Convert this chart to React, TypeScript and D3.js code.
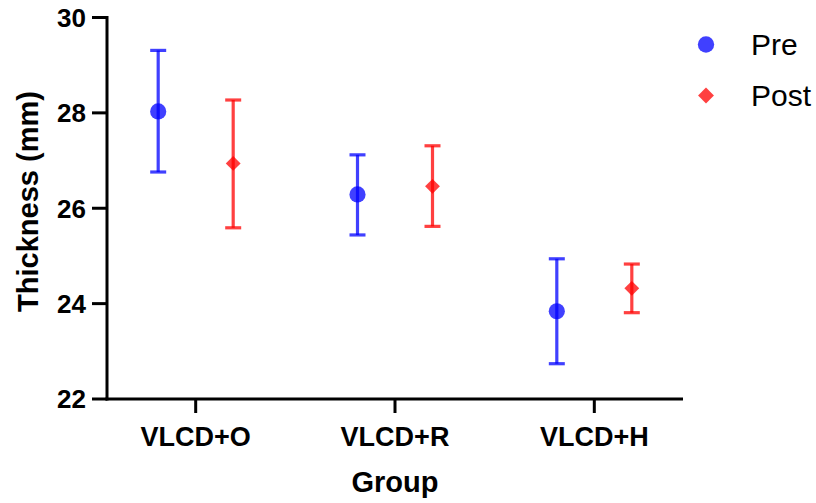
import React from "react";
import * as d3 from "d3";

// Mean ± error range per group, for the pre and post measurements
const groups = ["VLCD+O", "VLCD+R", "VLCD+H"];
const preMean = [28.03, 26.29, 23.84];
const preLow = [26.76, 25.44, 22.74];
const preHigh = [29.31, 27.12, 24.94];
const postMean = [26.94, 26.46, 24.32];
const postLow = [25.59, 25.62, 23.81];
const postHigh = [28.27, 27.31, 24.83];
const yTicks = [22, 24, 26, 28, 30];
const seriesNames = ["Pre", "Post"];

const W = 816;
const H = 503;
const margin = { left: 107, right: 133, top: 17.5, bottom: 104 };
const FONT = "'Liberation Sans', Arial, sans-serif";

export default function App() {
  const x = d3
    .scalePoint<string>()
    .domain(groups)
    .range([margin.left, W - margin.right])
    .padding(0.445);
  const y = d3
    .scaleLinear()
    .domain([22, 30])
    .range([H - margin.bottom, margin.top]);

  const offset = 37.5;
  const series = [
    { name: seriesNames[0], mean: preMean, low: preLow, high: preHigh, color: "#0000FF", dx: -offset, shape: "circle" },
    { name: seriesNames[1], mean: postMean, low: postLow, high: postHigh, color: "#FF0000", dx: offset, shape: "diamond" },
  ];

  const diamond = d3.symbol().type(d3.symbolDiamond2).size(140)();
  const circle = d3.symbol().type(d3.symbolCircle).size(205)();
  const legendDiamond = d3.symbol().type(d3.symbolDiamond2).size(160)();
  const legendCircle = d3.symbol().type(d3.symbolCircle).size(210)();
  const y0 = y(22);
  const op = 0.75;

  return (
    <svg width={W} height={H} style={{ position: "absolute", left: 0, top: 0 }}>
      <rect width={W} height={H} fill="#fff" />
      {/* error bars and markers */}
      {series.map((s) =>
        groups.map((g, i) => {
          const cx = (x(g) as number) + s.dx;
          return (
            <g key={s.name + g} stroke={s.color} strokeOpacity={op} strokeWidth={3.2}>
              <line x1={cx} x2={cx} y1={y(s.low[i])} y2={y(s.high[i])} />
              <line x1={cx - 8} x2={cx + 8} y1={y(s.high[i])} y2={y(s.high[i])} />
              <line x1={cx - 8} x2={cx + 8} y1={y(s.low[i])} y2={y(s.low[i])} />
              <path
                d={s.shape === "circle" ? circle : diamond}
                transform={`translate(${cx},${y(s.mean[i])})`}
                fill={s.color}
                fillOpacity={op}
                stroke="none"
              />
            </g>
          );
        })
      )}
      {/* y axis */}
      <line x1={margin.left} x2={margin.left} y1={y(30) - 1.5} y2={y0 + 1.5} stroke="#000" strokeWidth={3} />
      {yTicks.map((t) => (
        <g key={t}>
          <line x1={margin.left - 15} x2={margin.left} y1={y(t)} y2={y(t)} stroke="#000" strokeWidth={3} />
          <text
            x={margin.left - 21}
            y={y(t)}
            dy="0.36em"
            textAnchor="end"
            fontFamily={FONT}
            fontWeight="bold"
            fontSize={26}
          >
            {t}
          </text>
        </g>
      ))}
      {/* x axis */}
      <line x1={margin.left - 1.5} x2={W - margin.right} y1={y0} y2={y0} stroke="#000" strokeWidth={3} />
      {groups.map((g) => (
        <g key={g}>
          <line x1={x(g)} x2={x(g)} y1={y0} y2={y0 + 14} stroke="#000" strokeWidth={3} />
          <text x={x(g)} y={446} textAnchor="middle" fontFamily={FONT} fontWeight="bold" fontSize={27}>
            {g}
          </text>
        </g>
      ))}
      {/* axis titles */}
      <text
        x={(margin.left + W - margin.right) / 2}
        y={491.5}
        textAnchor="middle"
        fontFamily={FONT}
        fontWeight="bold"
        fontSize={29}
      >
        Group
      </text>
      <text
        transform={`translate(38,201.5) rotate(-90)`}
        textAnchor="middle"
        fontFamily={FONT}
        fontWeight="bold"
        fontSize={29}
      >
        Thickness (mm)
      </text>
      {/* legend */}
      {series.map((s, i) => (
        <g key={s.name} transform={`translate(706,${44.5 + i * 51})`}>
          <path d={s.shape === "circle" ? legendCircle : legendDiamond} fill={s.color} fillOpacity={op} />
          <text x={45} y={10} fontFamily={FONT} fontSize={30}>
            {s.name}
          </text>
        </g>
      ))}
    </svg>
  );
}
